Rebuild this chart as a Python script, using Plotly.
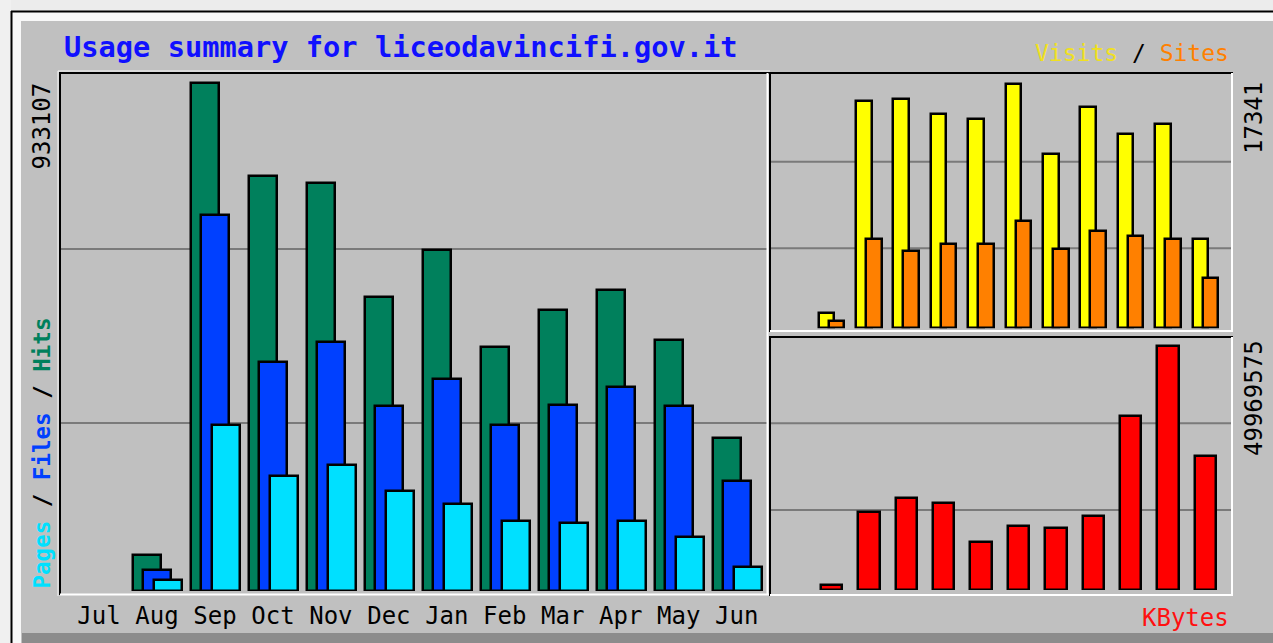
import plotly.graph_objects as go

W, H = 1273, 643

months = ["Jul", "Aug", "Sep", "Oct", "Nov", "Dec", "Jan", "Feb", "Mar", "Apr", "May", "Jun"]
hits = [0, 66100, 933107, 762300, 749400, 540000, 626400, 448200, 516100, 552900, 461000, 281000]
files = [0, 38600, 690600, 420600, 457400, 340400, 389400, 304900, 341600, 374700, 340400, 202600]
pages = [0, 20200, 304900, 211200, 231400, 184200, 159800, 128600, 124900, 129100, 98600, 43500]
visits = [0, 1066, 16154, 16318, 15209, 14875, 17341, 12387, 15749, 13809, 14520, 6347]
sites = [0, 540, 6368, 5515, 6012, 6012, 7626, 5657, 6915, 6560, 6368, 3554]
kbytes = [0, 1024000, 15912000, 18902000, 17878000, 9769000, 13168000, 12636000,
          15216000, 35634000, 49969575, 27504000]

C_HITS, C_FILES, C_PAGES = "#00805c", "#0040ff", "#00e0ff"
C_VISITS, C_SITES, C_KB = "#ffff00", "#ff8000", "#ff0000"
BG = "#c0c0c0"
MONO = "DejaVu Sans Mono"


def px(x):
    return x / W


def py(y):
    return 1 - y / H


xs = list(range(len(months)))
fig = go.Figure()


def outline(vals):
    # no outline drawn for empty months (webalizer draws nothing there)
    return dict(color="black", width=[0 if v == 0 else 2.5 for v in vals])


def bar(vals, color, width, offset, ax, name):
    fig.add_trace(go.Bar(x=xs, y=vals, marker=dict(color=color, line=outline(vals)),
                         width=width, offset=offset, xaxis="x" + ax, yaxis="y" + ax, name=name,
                         hoverinfo="skip"))


# main panel
bar(hits, C_HITS, 0.483, -0.414, "", "Hits")
bar(files, C_FILES, 0.483, -0.2415, "", "Files")
bar(pages, C_PAGES, 0.483, -0.052, "", "Pages")
# visits / sites
bar(visits, C_VISITS, 0.42, -0.345, "2", "Visits")
bar(sites, C_SITES, 0.42, -0.078, "2", "Sites")
# kbytes
bar(kbytes, C_KB, 0.575, -0.2875, "3", "KBytes")

hidden = dict(showgrid=False, zeroline=False, showline=False, showticklabels=False, ticks="", fixedrange=True)

main_base, main_top, main_maxpx = 591, 73, 83
up_base, up_top, up_maxpx = 328.3, 73, 84.3
lo_base, lo_top, lo_maxpx = 590, 337, 346

fig.update_layout(
    width=W, height=H, margin=dict(l=0, r=0, t=0, b=0),
    paper_bgcolor=BG, plot_bgcolor="rgba(0,0,0,0)",
    barmode="overlay", showlegend=False, bargap=0,
    xaxis=dict(domain=[px(60), px(770)], range=[-0.673, 11.575], showgrid=False, zeroline=False,
               showline=False, tickmode="array", tickvals=xs, ticktext=months,
               ticks="outside", ticklen=3, tickcolor="rgba(0,0,0,0)",
               tickfont=dict(family=MONO, size=24, color="black"), fixedrange=True),
    yaxis=dict(domain=[py(main_base), py(main_top)],
               range=[0, max(hits) * (main_base - main_top) / (main_base - main_maxpx)], **hidden),
    xaxis2=dict(domain=[px(770), px(1232)], range=[-0.644, 11.709], anchor="y2", **hidden),
    yaxis2=dict(domain=[py(up_base), py(up_top)], anchor="x2",
                range=[0, max(visits) * (up_base - up_top) / (up_base - up_maxpx)], **hidden),
    xaxis3=dict(domain=[px(770), px(1232)], range=[-0.644, 11.709], anchor="y3", **hidden),
    yaxis3=dict(domain=[py(lo_base), py(lo_top)], anchor="x3",
                range=[0, max(kbytes) * (lo_base - lo_top) / (lo_base - lo_maxpx)], **hidden),
)

shapes = []


def rect(x0, y0, x1, y1, color, layer="below"):
    shapes.append(dict(type="rect", xref="paper", yref="paper", x0=px(x0), x1=px(x1), y0=py(y0), y1=py(y1),
                       fillcolor=color, line=dict(width=0), layer=layer))


def hline(y, x0, x1, color, w=2, layer="above"):
    shapes.append(dict(type="line", xref="paper", yref="paper", x0=px(x0), x1=px(x1), y0=py(y), y1=py(y),
                       line=dict(color=color, width=w), layer=layer))


def vline(x, y0, y1, color, w=2, layer="above"):
    shapes.append(dict(type="line", xref="paper", yref="paper", x0=px(x), x1=px(x), y0=py(y0), y1=py(y1),
                       line=dict(color=color, width=w), layer=layer))


# outer frame
rect(0, 0, W, 11, "#ececec")
rect(0, 0, 11, H, "#f0f0f0")
rect(12, 12, W, 21, "#f8f8f8")
rect(12, 12, 21, H, "#f8f8f8")
rect(22, 633, W, H, "#8c8c8c")
hline(11.5, 11, W, "black")
vline(11.5, 11, H, "black")

GRID = "#7a7a7a"
# gridlines
for y in (249, 423):
    hline(y, 61, 768, GRID, 2, "below")
for y in (161.7, 248.3):
    hline(y, 771, 1231, GRID, 2, "below")
for y in (423.3, 510):
    hline(y, 771, 1231, GRID, 2, "below")

# panel frames (3D inset)
# main
hline(71, 58, 770, "#f4f4f4", 1)
vline(58, 71, 596, "#f4f4f4", 1)
hline(73, 59, 769, "black")
vline(60, 72, 595, "black")
hline(594.5, 60, 769, "white")
vline(767.5, 73, 595, "white")
# upper right
hline(73, 769, 1233, "black")
vline(770, 72, 332, "black")
hline(331, 770, 1233, "white")
vline(1232, 73, 332, "white")
# lower right
hline(337, 769, 1233, "black")
vline(770, 336, 596, "black")
hline(595, 770, 1233, "white")
vline(1232, 337, 596, "white")

fig.update_layout(shapes=shapes)

ann = []
ann.append(dict(x=px(62), y=py(47), xref="paper", yref="paper", xanchor="left", yanchor="middle",
                text="<b>Usage summary for liceodavincifi.gov.it</b>", showarrow=False,
                font=dict(family=MONO, size=28.7, color="#1010ff")))
ann.append(dict(x=px(41), y=py(591), xref="paper", yref="paper", xanchor="center", yanchor="bottom",
                textangle=-90, showarrow=False,
                text=(f"<b><span style='color:{C_PAGES}'>Pages</span> / "
                      f"<span style='color:{C_FILES}'>Files</span> / "
                      f"<span style='color:{C_HITS}'>Hits</span></b>"),
                font=dict(family=MONO, size=22.5, color="black")))
ann.append(dict(x=px(41), y=py(80), xref="paper", yref="paper", xanchor="center", yanchor="top",
                textangle=-90, showarrow=False, text=str(max(hits)),
                font=dict(family=MONO, size=24, color="black")))
ann.append(dict(x=px(1254), y=py(80), xref="paper", yref="paper", xanchor="center", yanchor="top",
                textangle=-90, showarrow=False, text=str(max(visits)),
                font=dict(family=MONO, size=24, color="black")))
ann.append(dict(x=px(1254), y=py(338), xref="paper", yref="paper", xanchor="center", yanchor="top",
                textangle=-90, showarrow=False, text=str(max(kbytes)),
                font=dict(family=MONO, size=24, color="black")))
ann.append(dict(x=px(1231), y=py(53), xref="paper", yref="paper", xanchor="right", yanchor="middle",
                showarrow=False,
                text=(f"<span style='color:#f0e020'>Visits</span> / "
                      f"<span style='color:{C_SITES}'>Sites</span>"),
                font=dict(family=MONO, size=23, color="black")))
ann.append(dict(x=px(1231), y=py(618), xref="paper", yref="paper", xanchor="right", yanchor="middle",
                showarrow=False, text="KBytes",
                font=dict(family=MONO, size=24, color="#ff1010")))
fig.update_layout(annotations=ann)

fig.write_html("out.html", config={"displayModeBar": False},
               post_script="document.body.style.margin='0';document.body.style.overflow='hidden';")
